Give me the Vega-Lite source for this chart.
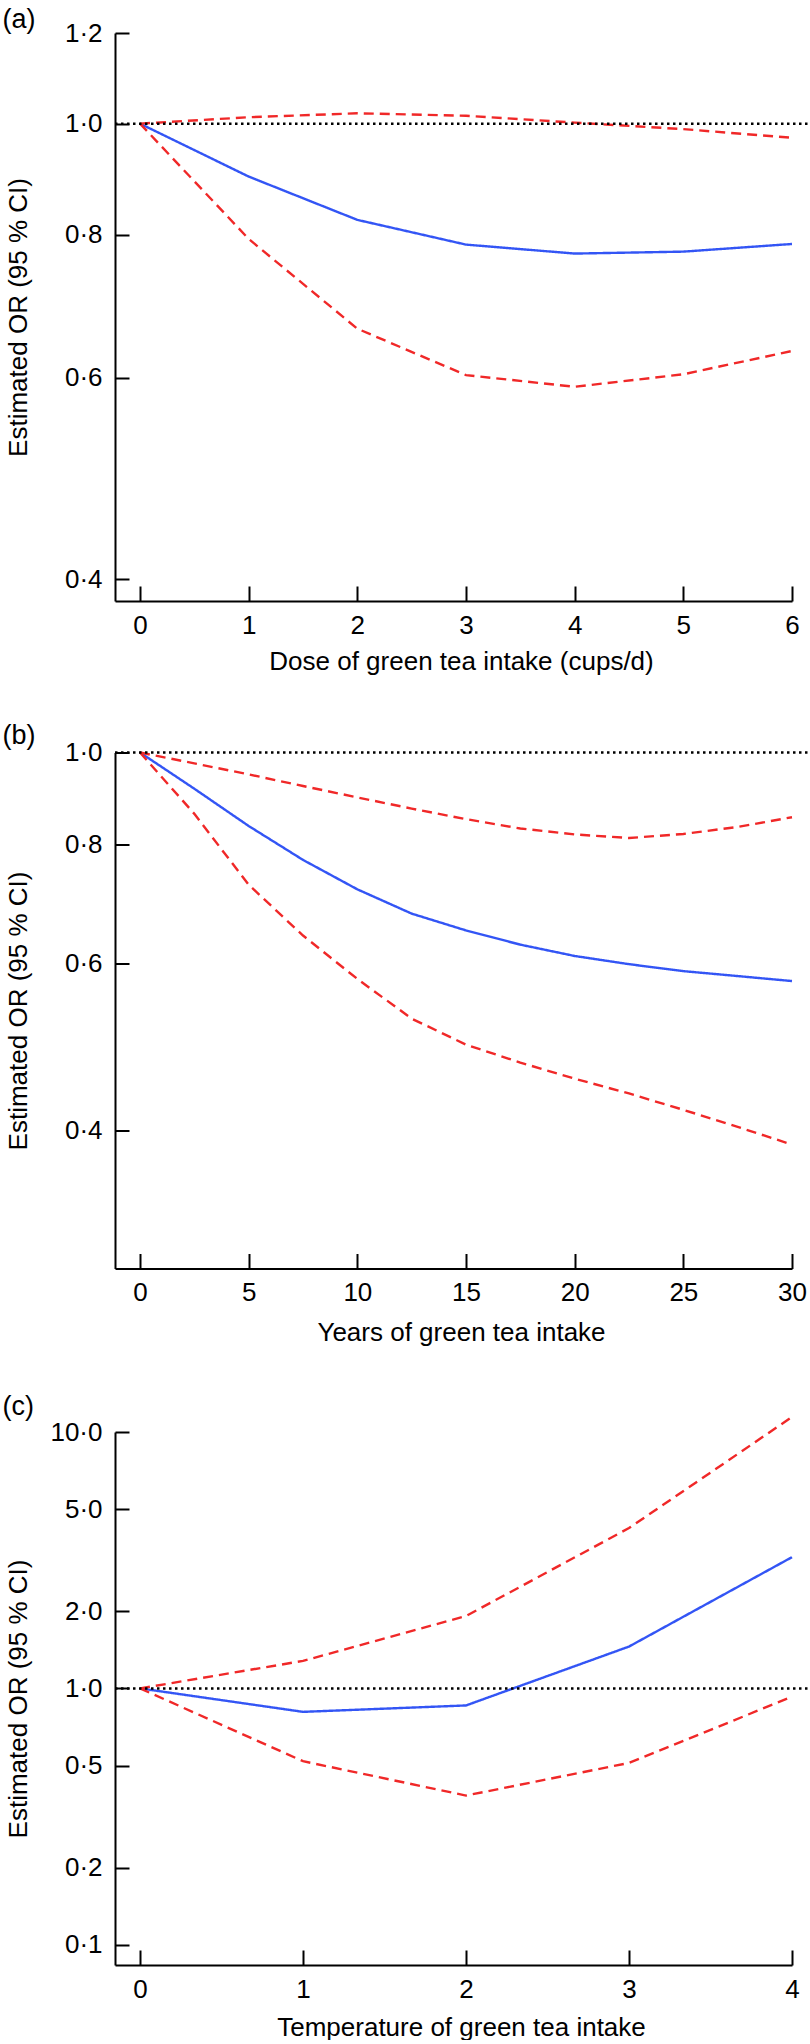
{
  "$schema": "https://vega.github.io/schema/vega-lite/v6.json",
  "background": "white",
  "padding": {"left": 2, "top": 6, "right": 0, "bottom": 0},
  "spacing": 47.5,
  "config": {
    "font": "Liberation Sans",
    "view": {"stroke": null},
    "axis": {
      "grid": false, "domainColor": "black", "domainWidth": 2,
      "tickColor": "black", "tickWidth": 2,
      "labelFontSize": 26, "labelColor": "black", "labelFont": "Liberation Sans",
      "titleFontSize": 26, "titleFontWeight": "normal", "titleColor": "black", "titleFont": "Liberation Sans",
      "labelFlush": false
    },
    "axisX": {"tickSize": -15, "labelPadding": 39, "labelBaseline": "middle", "titleBaseline": "middle", "titleAlign": "center", "titleX": 346},
    "axisY": {"tickSize": -14, "labelPadding": 27, "labelBaseline": "middle", "titleBaseline": "middle", "titleAlign": "center", "titleX": -97},
    "title": {"fontSize": 27, "fontWeight": "normal", "anchor": "start", "frame": "group", "color": "black", "font": "Liberation Sans", "baseline": "alphabetic", "dx": -112.5}
  },
  "datasets": {
    "a": [
      {"x": 0, "y": 1, "s": "est"}, {"x": 1, "y": 0.899, "s": "est"}, {"x": 2, "y": 0.824, "s": "est"}, {"x": 3, "y": 0.784, "s": "est"}, {"x": 4, "y": 0.770, "s": "est"}, {"x": 5, "y": 0.773, "s": "est"}, {"x": 6, "y": 0.785, "s": "est"},
      {"x": 0, "y": 1, "s": "upper"}, {"x": 1, "y": 1.013, "s": "upper"}, {"x": 2, "y": 1.021, "s": "upper"}, {"x": 3, "y": 1.016, "s": "upper"}, {"x": 4, "y": 1.002, "s": "upper"}, {"x": 5, "y": 0.989, "s": "upper"}, {"x": 6, "y": 0.972, "s": "upper"},
      {"x": 0, "y": 1, "s": "lower"}, {"x": 1, "y": 0.793, "s": "lower"}, {"x": 2, "y": 0.662, "s": "lower"}, {"x": 3, "y": 0.603, "s": "lower"}, {"x": 4, "y": 0.589, "s": "lower"}, {"x": 5, "y": 0.604, "s": "lower"}, {"x": 6, "y": 0.633, "s": "lower"}
    ],
    "b": [
      {"x": 0, "y": 1, "s": "est"}, {"x": 2.5, "y": 0.916, "s": "est"}, {"x": 5, "y": 0.837, "s": "est"}, {"x": 7.5, "y": 0.771, "s": "est"}, {"x": 10, "y": 0.718, "s": "est"}, {"x": 12.5, "y": 0.677, "s": "est"}, {"x": 15, "y": 0.650, "s": "est"}, {"x": 17.5, "y": 0.628, "s": "est"}, {"x": 20, "y": 0.611, "s": "est"}, {"x": 22.5, "y": 0.599, "s": "est"}, {"x": 25, "y": 0.589, "s": "est"}, {"x": 27.5, "y": 0.582, "s": "est"}, {"x": 30, "y": 0.575, "s": "est"},
      {"x": 0, "y": 1, "s": "upper"}, {"x": 2.5, "y": 0.974, "s": "upper"}, {"x": 5, "y": 0.9485, "s": "upper"}, {"x": 7.5, "y": 0.922, "s": "upper"}, {"x": 10, "y": 0.897, "s": "upper"}, {"x": 12.5, "y": 0.873, "s": "upper"}, {"x": 15, "y": 0.851, "s": "upper"}, {"x": 17.5, "y": 0.832, "s": "upper"}, {"x": 20, "y": 0.820, "s": "upper"}, {"x": 22.5, "y": 0.813, "s": "upper"}, {"x": 25, "y": 0.821, "s": "upper"}, {"x": 27.5, "y": 0.835, "s": "upper"}, {"x": 30, "y": 0.855, "s": "upper"},
      {"x": 0, "y": 1, "s": "lower"}, {"x": 2.5, "y": 0.862, "s": "lower"}, {"x": 5, "y": 0.726, "s": "lower"}, {"x": 7.5, "y": 0.642, "s": "lower"}, {"x": 10, "y": 0.578, "s": "lower"}, {"x": 12.5, "y": 0.525, "s": "lower"}, {"x": 15, "y": 0.493, "s": "lower"}, {"x": 17.5, "y": 0.472, "s": "lower"}, {"x": 20, "y": 0.454, "s": "lower"}, {"x": 22.5, "y": 0.438, "s": "lower"}, {"x": 25, "y": 0.421, "s": "lower"}, {"x": 27.5, "y": 0.404, "s": "lower"}, {"x": 30, "y": 0.387, "s": "lower"}
    ],
    "c": [
      {"x": 0, "y": 1, "s": "est"}, {"x": 1, "y": 0.81, "s": "est"}, {"x": 2, "y": 0.858, "s": "est"}, {"x": 3, "y": 1.456, "s": "est"}, {"x": 4, "y": 3.25, "s": "est"},
      {"x": 0, "y": 1, "s": "upper"}, {"x": 1, "y": 1.28, "s": "upper"}, {"x": 2, "y": 1.915, "s": "upper"}, {"x": 3, "y": 4.22, "s": "upper"}, {"x": 4, "y": 11.44, "s": "upper"},
      {"x": 0, "y": 1, "s": "lower"}, {"x": 1, "y": 0.52, "s": "lower"}, {"x": 2, "y": 0.382, "s": "lower"}, {"x": 3, "y": 0.512, "s": "lower"}, {"x": 4, "y": 0.928, "s": "lower"}
    ]
  },
  "vconcat": [
    {
      "width": 677, "height": 568,
      "title": {"text": "(a)", "offset": -14},
      "layer": [
        {
          "data": {"name": "a"},
          "mark": {"type": "line", "strokeWidth": 2.4},
          "encoding": {
            "x": {"field": "x", "type": "quantitative", "scale": {"domain": [-0.2302, 6], "nice": false, "zero": false},
                  "axis": {"values": [0, 1, 2, 3, 4, 5, 6], "format": "d", "title": "Dose of green tea intake (cups/d)", "titleY": 60}},
            "y": {"field": "y", "type": "quantitative", "scale": {"type": "log", "domain": [0.3828, 1.2], "nice": false},
                  "axis": {"values": [0.4, 0.6, 0.8, 1, 1.2], "labelExpr": "replace(format(datum.value, '.1f'), '.', '·')", "title": "Estimated OR (95 % CI)", "titleY": 284}},
            "color": {"field": "s", "type": "nominal", "scale": {"domain": ["est", "lower", "upper"], "range": ["#3355F5", "#F02828", "#F02828"]}, "legend": null},
            "strokeDash": {"field": "s", "type": "nominal", "scale": {"domain": ["est", "lower", "upper"], "range": [[1, 0], [10, 6], [10, 6]]}, "legend": null}
          }
        },
        {
          "data": {"values": [{"ref": 1}]},
          "mark": {"type": "rule", "color": "black", "strokeWidth": 2.5, "strokeDash": [2.5, 3.5]},
          "encoding": {"x": {"datum": -0.2302, "type": "quantitative"}, "x2": {"datum": 6.15}, "y": {"field": "ref", "type": "quantitative"}}
        }
      ]
    },
    {
      "width": 677, "height": 516,
      "title": {"text": "(b)", "offset": -10.5},
      "layer": [
        {
          "data": {"name": "b"},
          "mark": {"type": "line", "strokeWidth": 2.4},
          "encoding": {
            "x": {"field": "x", "type": "quantitative", "scale": {"domain": [-1.151, 30], "nice": false, "zero": false},
                  "axis": {"values": [0, 5, 10, 15, 20, 25, 30], "format": "d", "title": "Years of green tea intake", "titleY": 64}},
            "y": {"field": "y", "type": "quantitative", "scale": {"type": "log", "domain": [0.2867, 1.0], "nice": false},
                  "axis": {"values": [0.4, 0.6, 0.8, 1], "labelExpr": "replace(format(datum.value, '.1f'), '.', '·')", "title": "Estimated OR (95 % CI)", "titleY": 258}},
            "color": {"field": "s", "type": "nominal", "scale": {"domain": ["est", "lower", "upper"], "range": ["#3355F5", "#F02828", "#F02828"]}, "legend": null},
            "strokeDash": {"field": "s", "type": "nominal", "scale": {"domain": ["est", "lower", "upper"], "range": [[1, 0], [10, 6], [10, 6]]}, "legend": null}
          }
        },
        {
          "data": {"values": [{"ref": 1}]},
          "mark": {"type": "rule", "color": "black", "strokeWidth": 2.5, "strokeDash": [2.5, 3.5]},
          "encoding": {"x": {"datum": -1.151, "type": "quantitative"}, "x2": {"datum": 30.75}, "y": {"field": "ref", "type": "quantitative"}}
        }
      ]
    },
    {
      "width": 677, "height": 533,
      "title": {"text": "(c)", "offset": -9.2},
      "layer": [
        {
          "data": {"name": "c"},
          "mark": {"type": "line", "strokeWidth": 2.4},
          "encoding": {
            "x": {"field": "x", "type": "quantitative", "scale": {"domain": [-0.1535, 4], "nice": false, "zero": false},
                  "axis": {"values": [0, 1, 2, 3, 4], "format": "d", "title": "Temperature of green tea intake", "titleY": 62}},
            "y": {"field": "y", "type": "quantitative", "scale": {"type": "log", "domain": [0.0834, 10], "nice": false},
                  "axis": {"values": [0.1, 0.2, 0.5, 1, 2, 5, 10], "labelExpr": "replace(format(datum.value, '.1f'), '.', '·')", "title": "Estimated OR (95 % CI)", "titleY": 266.5}},
            "color": {"field": "s", "type": "nominal", "scale": {"domain": ["est", "lower", "upper"], "range": ["#3355F5", "#F02828", "#F02828"]}, "legend": null},
            "strokeDash": {"field": "s", "type": "nominal", "scale": {"domain": ["est", "lower", "upper"], "range": [[1, 0], [10, 6], [10, 6]]}, "legend": null}
          }
        },
        {
          "data": {"values": [{"ref": 1}]},
          "mark": {"type": "rule", "color": "black", "strokeWidth": 2.5, "strokeDash": [2.5, 3.5]},
          "encoding": {"x": {"datum": -0.1535, "type": "quantitative"}, "x2": {"datum": 4.1}, "y": {"field": "ref", "type": "quantitative"}}
        }
      ]
    }
  ]
}
